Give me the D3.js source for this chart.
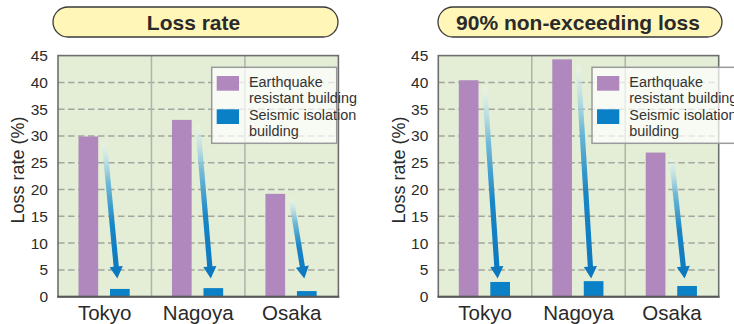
<!DOCTYPE html>
<html>
<head>
<meta charset="utf-8">
<script src="https://cdn.jsdelivr.net/npm/d3@7"></script>
<style>
  html, body { margin: 0; padding: 0; background: #ffffff; }
  svg { display: block; }
  text { font-family: "Liberation Sans", Arial, Helvetica, sans-serif; }
</style>
</head>
<body>
<svg id="chart" width="734" height="324"></svg>
<script>
// Cities on the x axis
const categories = ["Tokyo", "Nagoya", "Osaka"];
// Building types (legend order)
const seriesNames = ["Earthquake resistant building", "Seismic isolation building"];
const legendLines = [["Earthquake", "resistant building"], ["Seismic isolation", "building"]];

// Loss rate (%)
const lossRateResistant = [29.9, 33.0, 19.2];
const lossRateIsolation = [1.45, 1.6, 1.05];
// 90% non-exceeding loss (%)
const nonExceedResistant = [40.4, 44.3, 26.9];
const nonExceedIsolation = [2.75, 2.9, 2.0];

// Axis
const yTicks = [0, 5, 10, 15, 20, 25, 30, 35, 40, 45];
const yMax = 45;
const yTitle = "Loss rate (%)";
const arrowEndValue = 3.4;

const panelTitles = ["Loss rate", "90% non-exceeding loss"];

const colors = {
  resistant: "#b088be",
  isolation: "#0a80c6",
  plotBg: "#e4eed6",
  grid: "#a3a69f",
  divider: "#aeb2aa",
  frame: "#6e6e6e",
  text: "#2a2a2a",
  pill: "#fff6b8"
};

const svg = d3.select("#chart");
const defs = svg.append("defs");

const panels = [
  { left: 58, resistant: lossRateResistant, isolation: lossRateIsolation,
    title: panelTitles[0], pillX: 53, pillW: 285, legendW: 125 },
  { left: 438.3, resistant: nonExceedResistant, isolation: nonExceedIsolation,
    title: panelTitles[1], pillX: 438, pillW: 284, legendW: 160 }
];

const plotTop = 55.6, plotBottom = 296.7, plotWidth = 280.4;

const y = d3.scaleLinear().domain([0, yMax]).range([plotBottom, plotTop]);

panels.forEach((p, pi) => {
  const g = svg.append("g");
  const x = d3.scaleBand().domain(categories).range([p.left, p.left + plotWidth]).padding(0);
  const xs = d3.scaleBand().domain(seriesNames).range([20.5, 71.7]).paddingInner(0.375);

  // title pill
  g.append("rect")
    .attr("x", p.pillX).attr("y", 7).attr("width", p.pillW).attr("height", 30)
    .attr("rx", 15).attr("ry", 15)
    .attr("fill", colors.pill).attr("stroke", "#3a3a3a").attr("stroke-width", 1.3);
  g.append("text")
    .attr("x", p.pillX + p.pillW / 2 - 2).attr("y", 30)
    .attr("text-anchor", "middle")
    .attr("font-size", 21).attr("font-weight", "bold")
    .attr("fill", colors.text)
    .text(p.title);

  // plot background
  g.append("rect")
    .attr("x", p.left).attr("y", plotTop).attr("width", plotWidth).attr("height", plotBottom - plotTop)
    .attr("fill", colors.plotBg);

  // dashed gridlines
  g.selectAll(".grid").data(yTicks.filter(t => t > 0 && t < yMax)).enter()
    .append("line")
    .attr("x1", p.left).attr("x2", p.left + plotWidth)
    .attr("y1", d => y(d)).attr("y2", d => y(d))
    .attr("stroke", colors.grid).attr("stroke-width", 1.5)
    .attr("stroke-dasharray", "6.5,3.5");

  // category dividers
  g.selectAll(".div").data(categories.slice(1)).enter()
    .append("line")
    .attr("x1", d => x(d)).attr("x2", d => x(d))
    .attr("y1", plotTop).attr("y2", plotBottom)
    .attr("stroke", colors.divider).attr("stroke-width", 1.5);

  // bars
  categories.forEach((c, i) => {
    const vals = [p.resistant[i], p.isolation[i]];
    const fills = [colors.resistant, colors.isolation];
    seriesNames.forEach((s, si) => {
      g.append("rect")
        .attr("x", x(c) + xs(s)).attr("width", xs.bandwidth())
        .attr("y", y(vals[si])).attr("height", y(0) - y(vals[si]))
        .attr("fill", fills[si]);
    });
  });

  // arrows from the resistant bar down to the isolation bar
  categories.forEach((c, i) => {
    const x0 = x(c) + xs(seriesNames[0]) + xs.bandwidth() + 6;
    const y0 = y(p.resistant[i]) + 4;
    const x1 = x(c) + xs(seriesNames[1]) + xs.bandwidth() / 2 - 2.5;
    const y1 = y(arrowEndValue);
    const id = `arrowGrad${pi}_${i}`;
    const grad = defs.append("linearGradient").attr("id", id)
      .attr("gradientUnits", "userSpaceOnUse")
      .attr("x1", x0).attr("y1", y0).attr("x2", x1).attr("y2", y1);
    [[0, "#ffffff", 0], [0.08, "#cfe9ec", 0.6], [0.3, "#6db8d6", 0.95],
     [0.6, "#1a86c6", 1], [1, "#0a76bf", 1]].forEach(([o, col, op]) => {
      grad.append("stop").attr("offset", o).attr("stop-color", col).attr("stop-opacity", op);
    });
    const len = Math.hypot(x1 - x0, y1 - y0);
    const ux = (x1 - x0) / len, uy = (y1 - y0) / len;
    const nx = -uy, ny = ux;
    const shaftHalf = 2.6, headHalf = 6.6, headLen = 12;
    const bx = x1 - ux * headLen, by = y1 - uy * headLen;
    const pts = [
      [x0 + nx * shaftHalf, y0 + ny * shaftHalf],
      [bx + nx * shaftHalf, by + ny * shaftHalf],
      [bx + nx * headHalf, by + ny * headHalf],
      [x1, y1],
      [bx - nx * headHalf, by - ny * headHalf],
      [bx - nx * shaftHalf, by - ny * shaftHalf],
      [x0 - nx * shaftHalf, y0 - ny * shaftHalf]
    ];
    g.append("path").attr("d", d3.line()(pts) + "Z").attr("fill", `url(#${id})`);
  });

  // frame
  g.append("rect")
    .attr("x", p.left).attr("y", plotTop).attr("width", plotWidth).attr("height", plotBottom - plotTop)
    .attr("fill", "none").attr("stroke", colors.frame).attr("stroke-width", 1.6);
  g.append("line")
    .attr("x1", p.left - 0.8).attr("x2", p.left + plotWidth + 0.8)
    .attr("y1", plotBottom).attr("y2", plotBottom)
    .attr("stroke", "#585858").attr("stroke-width", 2);

  // y axis labels (no tick marks)
  const yAxis = d3.axisLeft(y).tickValues(yTicks).tickSize(0).tickPadding(10);
  const ya = g.append("g").attr("transform", `translate(${p.left},0)`).call(yAxis);
  ya.select(".domain").remove();
  ya.selectAll("text")
    .attr("font-size", 15.5).attr("fill", colors.text)
    .attr("font-family", "'Liberation Sans', Arial, sans-serif");

  // x axis labels
  const xAxis = d3.axisBottom(x).tickSize(0).tickPadding(0);
  const xa = g.append("g").attr("transform", `translate(0,${plotBottom})`).call(xAxis);
  xa.select(".domain").remove();
  xa.selectAll("text")
    .attr("dy", null).attr("y", 23.3)
    .attr("font-size", 20.5).attr("fill", colors.text)
    .attr("font-family", "'Liberation Sans', Arial, sans-serif");

  // y axis title
  g.append("text")
    .attr("transform", `translate(${p.left - 40},170) rotate(-90)`)
    .attr("text-anchor", "middle").attr("dy", "0.35em")
    .attr("font-size", 18).attr("fill", colors.text)
    .text(yTitle);

  // legend
  const lx = p.left + 153.7, ly = 67.3;
  const lg = g.append("g").attr("transform", `translate(${lx},${ly})`);
  lg.append("rect")
    .attr("width", p.legendW).attr("height", 76)
    .attr("fill", "#ffffff").attr("fill-opacity", 0.72)
    .attr("stroke", "#9a9a9a").attr("stroke-width", 1.5);
  const swatchY = [8.7, 42];
  const lineY = [[20, 36], [52.7, 68.2]];
  seriesNames.forEach((s, si) => {
    lg.append("rect")
      .attr("x", 5).attr("y", swatchY[si]).attr("width", 22.3).attr("height", 14.7)
      .attr("fill", si === 0 ? colors.resistant : colors.isolation);
    legendLines[si].forEach((t, li) => {
      lg.append("text")
        .attr("transform", `translate(37.3,${lineY[si][li]}) scale(0.93,1)`)
        .attr("font-size", 15.5).attr("fill", "#333333")
        .text(t);
    });
  });
});
</script>
</body>
</html>
